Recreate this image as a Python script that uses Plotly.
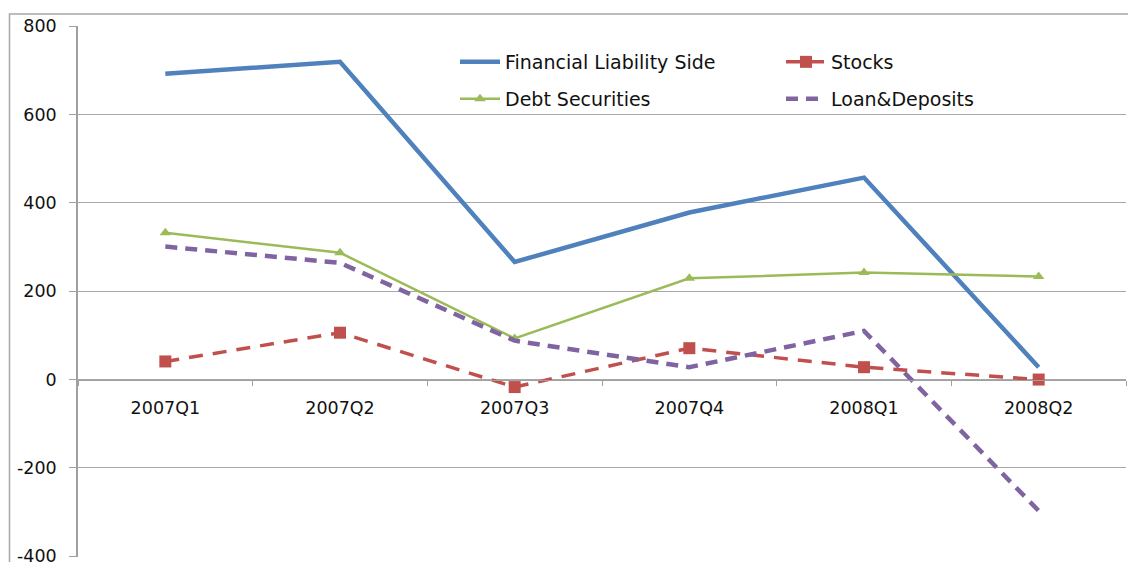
import plotly.graph_objects as go

categories = ["2007Q1", "2007Q2", "2007Q3", "2007Q4", "2008Q1", "2008Q2"]
financial_liability = [692, 719, 266, 378, 457, 28]
stocks = [41, 106, -17, 71, 28, 0]
debt_securities = [332, 287, 93, 229, 242, 233]
loan_deposits = [301, 264, 88, 28, 110, -297]
y_ticks = [-400, -200, 0, 200, 400, 600, 800]
y_tick_labels = [str(v) for v in y_ticks]

FONT = "DejaVu Sans"
TXT = "#111111"

fig = go.Figure()
fig.add_trace(go.Scatter(x=categories, y=financial_liability, name="Financial Liability Side",
                         mode="lines", line=dict(color="#4F81BD", width=4.5), legend="legend"))
fig.add_trace(go.Scatter(x=categories, y=stocks, name="Stocks", mode="lines+markers",
                         line=dict(color="#C0504D", width=3.5, dash="14px,10px"),
                         marker=dict(symbol="square", size=12, color="#C0504D"), legend="legend2"))
fig.add_trace(go.Scatter(x=categories, y=debt_securities, name="Debt Securities", mode="lines+markers",
                         line=dict(color="#9BBB59", width=2.5),
                         marker=dict(symbol="triangle-up", size=10, color="#9BBB59"), legend="legend3"))
fig.add_trace(go.Scatter(x=categories, y=loan_deposits, name="Loan&Deposits", mode="lines",
                         line=dict(color="#8064A2", width=4.5, dash="12px,8px"), legend="legend4"))

W, H = 1128, 562
L, R, T, B = 78, 2, 26, 5
pw, ph = W - L - R, H - T - B

def px_x(x):
    return (x - L) / pw

def px_y(y):
    return (H - B - y) / ph

leg_common = dict(xanchor="left", yanchor="middle", bgcolor="rgba(0,0,0,0)",
                  font=dict(family=FONT, size=19, color=TXT), itemwidth=40)

fig.update_layout(
    width=W, height=H,
    margin=dict(l=L, r=R, t=T, b=B, autoexpand=False),
    paper_bgcolor="white", plot_bgcolor="white",
    font=dict(family=FONT, size=17, color=TXT),
    showlegend=True,
    legend=dict(x=px_x(455), y=px_y(62), **leg_common),
    legend2=dict(x=px_x(781), y=px_y(62), **leg_common),
    legend3=dict(x=px_x(455), y=px_y(99), **leg_common),
    legend4=dict(x=px_x(781), y=px_y(99), **leg_common),
    xaxis=dict(
        type="category", anchor="free", position=401.5 / 1201.5, automargin=False,
        showline=True, linecolor="#a0a0a0", linewidth=1.2,
        ticks="outside", tickson="boundaries", ticklen=5, tickcolor="#a0a0a0",
        showgrid=False, zeroline=False, ticklabelstandoff=12,
        tickfont=dict(family=FONT, size=17.5, color=TXT),
        range=[-0.5, 5.5],
    ),
    yaxis=dict(
        range=[-401.5, 800], tickvals=y_ticks, ticktext=y_tick_labels, automargin=False,
        showline=True, linecolor="#a0a0a0", linewidth=1.5,
        ticks="outside", ticklen=7, tickcolor="#a0a0a0",
        showgrid=True, gridcolor="#a8a8a8", gridwidth=1,
        zeroline=False, ticklabelstandoff=9, ticklabeloverflow="allow",
        tickfont=dict(family=FONT, size=17.5, color=TXT),
    ),
)

fig.add_shape(type="rect", xref="paper", yref="paper",
              x0=px_x(9.5), x1=px_x(W + 20), y0=px_y(H + 20), y1=px_y(14),
              line=dict(color="#a8a8a8", width=1.5), fillcolor="rgba(0,0,0,0)", layer="below")

fig.write_html("out.html", config={"displayModeBar": False},
               post_script="document.body.style.margin='0';document.body.style.overflow='hidden';")
